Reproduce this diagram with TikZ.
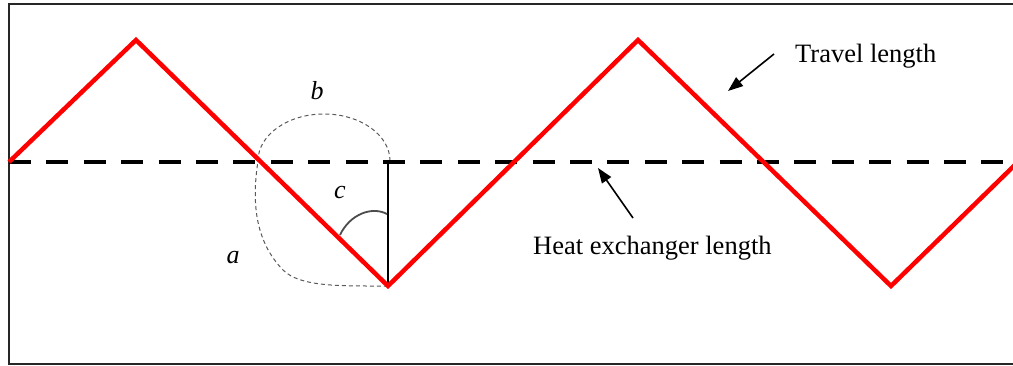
\documentclass[tikz,border=0pt]{standalone}
\usepackage{fontspec}
\setmainfont{Liberation Serif}
\usetikzlibrary{arrows.meta}
\begin{document}
\begin{tikzpicture}[x=1pt,y=-1pt,
  zig/.style={red,line width=4.5pt,line join=miter},
  midline/.style={black,line width=4.5pt,dash pattern=on 22pt off 15.4pt},
  lbl/.style={font=\fontsize{26.5}{30}\selectfont,inner sep=0pt},
  ilbl/.style={font=\fontsize{26}{30}\selectfont\itshape,inner sep=0pt,anchor=base},
  pointer/.style={black,line width=1.6pt,-{Triangle[length=15pt,width=11pt]}},
  guide/.style={gray!70!black,line width=1pt,dash pattern=on 4pt off 3pt},
  anglearc/.style={gray!60!black,line width=1.8pt}]
\useasboundingbox (0,0) rectangle (1013,366);
\clip (0,0) rectangle (1013,366);
% frame
\draw[line width=2pt,black!85] (9,4) rectangle (1030,364);
% zigzag coordinates
\coordinate (z0) at (9,162);
\coordinate (p1) at (136,40);
\coordinate (v1) at (388,286);
\coordinate (p2) at (638,40);
\coordinate (v2) at (891,286);
\coordinate (z5) at (1020,160);
\coordinate (m0) at (9,162);
\coordinate (m1) at (1013,162);
\coordinate (top) at (388,162);
\coordinate (gs) at (390,161);
\coordinate (gm) at (283,270);
\coordinate (ge) at (387,286);
% dashed guide circle
\draw[guide] (gs) arc[start angle=0,end angle=-180,x radius=66,y radius=47]
  .. controls +(-6,39) and (254,240) .. (gm)
  .. controls (300,287) and (340,286) .. (ge);
% midline
\draw[midline] (m0) -- (m1);
% vertical line
\draw[black,line width=1.6pt] (top) -- (v1);
% angle arc
\draw[anglearc] (340,235) .. controls (350,214) and (372,206) .. (387,214);
% zigzag
\draw[zig] (z0) -- (p1) -- (v1) -- (p2) -- (v2) -- (z5);
% labels
\node[ilbl] (la) at (233,264) {a};
\node[ilbl] (lb) at (317,100) {b};
\node[ilbl] (lc) at (340,199) {c};
\node[lbl,anchor=base west] (travel) at (795,63) {Travel length};
\node[lbl,anchor=base west] (heat) at (533,255) {Heat exchanger length};
% pointers
\coordinate (t1) at (774,54);
\coordinate (t2) at (728,91);
\coordinate (h1) at (633,218);
\coordinate (h2) at (598,168);
\draw[pointer] (t1) -- (t2);
\draw[pointer] (h1) -- (h2);
\end{tikzpicture}
\end{document}
